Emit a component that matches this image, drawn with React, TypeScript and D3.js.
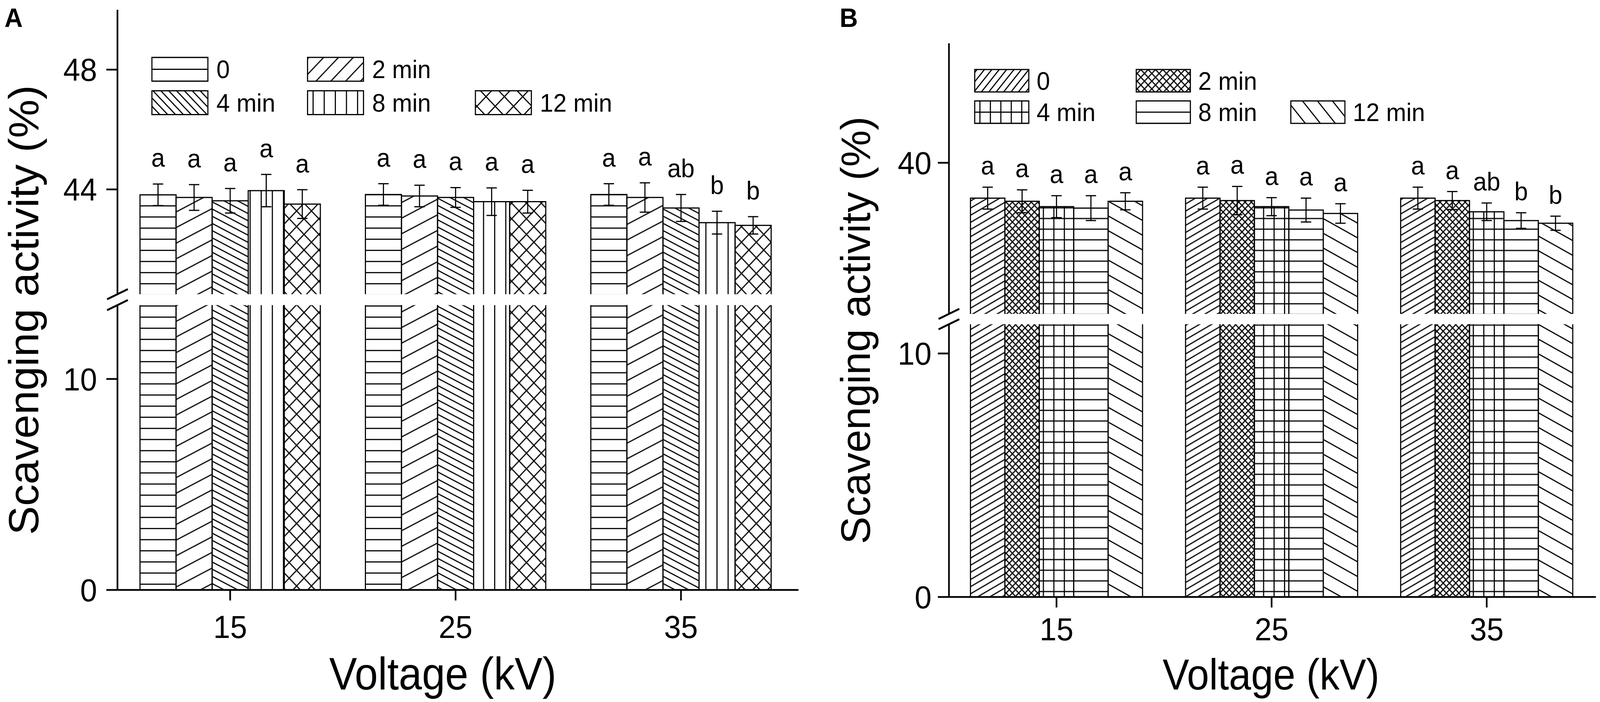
import React from 'react';
import * as d3 from 'd3';

// ---------- data ----------
const voltages = ['15', '25', '35'];
const seriesNames = ['0', '2 min', '4 min', '8 min', '12 min'];

// Panel A: means per voltage group (series order 0, 2, 4, 8, 12 min)
const aMeans15 = [43.82, 43.73, 43.62, 43.96, 43.51];
const aMeans25 = [43.83, 43.78, 43.73, 43.59, 43.59];
const aMeans35 = [43.83, 43.73, 43.38, 42.89, 42.8];
const aErr15 = [0.36, 0.43, 0.41, 0.54, 0.48];
const aErr25 = [0.36, 0.36, 0.33, 0.46, 0.38];
const aErr35 = [0.36, 0.49, 0.45, 0.38, 0.29];
const aLetters15 = ['a', 'a', 'a', 'a', 'a'];
const aLetters25 = ['a', 'a', 'a', 'a', 'a'];
const aLetters35 = ['a', 'a', 'ab', 'b', 'b'];

// Panel B
const bMeans15 = [38.55, 38.42, 38.2, 38.14, 38.42];
const bMeans25 = [38.55, 38.45, 38.2, 38.06, 37.92];
const bMeans35 = [38.55, 38.45, 37.99, 37.63, 37.52];
const bErr15 = [0.45, 0.47, 0.45, 0.51, 0.35];
const bErr25 = [0.45, 0.58, 0.37, 0.49, 0.4];
const bErr35 = [0.45, 0.37, 0.36, 0.32, 0.29];
const bLetters15 = ['a', 'a', 'a', 'a', 'a'];
const bLetters25 = ['a', 'a', 'a', 'a', 'a'];
const bLetters35 = ['a', 'a', 'ab', 'b', 'b'];

const aLowTicks = [0, 10];
const aUpTicks = [44, 48];
const bLowTicks = [0, 10];
const bUpTicks = [40];

// ---------- layout / style ----------
const W = 4318;
const H = 1798;
const FONT = "'Liberation Sans', Arial, Helvetica, sans-serif";
const SW = 3;

type Pat = { h?: boolean; v?: boolean; sx: number; sy: number; angle: number; ax?: number; ay?: number };

const panelA = {
  key: 'A',
  means: [aMeans15, aMeans25, aMeans35],
  errs: [aErr15, aErr25, aErr35],
  letters: [aLetters15, aLetters25, aLetters35],
  lowTicks: aLowTicks,
  upTicks: aUpTicks,
  axisX: 317,
  bandEnd: 2142,
  xEnd: 2155,
  lowDomain: [0, 13.5],
  lowRange: [1511, 781.5],
  upDomain: [40.5, 50],
  upRange: [753.5, 25],
  letterGap: 44,
  yLabelGap: 55,
  xLabelDy: 123,
  label: { x: 12, y: 69 },
  yTitle: { x: 103, y: 794, len: 1152, size: 114 },
  xTitle: { x: 1195, y: 1766, len: 613, size: 116 },
  barPats: [
    { h: true, sx: 20, sy: 28.5, angle: 0 },
    { h: true, sx: 20, sy: 35.8, angle: -26.57 },
    { h: true, sx: 20, sy: 16.5, angle: 26.57 },
    { v: true, sx: 30, sy: 20, angle: 0 },
    { h: true, v: true, sx: 28.3, sy: 28.3, angle: 45 },
  ] as Pat[],
  legend: {
    boxW: 151, boxH: 61, rows: [147, 232.5], cols: [410, 830, 1283], textDx: 174, size: 65,
    pats: [
      { h: true, sx: 20, sy: 30.5, angle: 0, ay: 1 },
      { h: true, sx: 20, sy: 28.3, angle: -45 },
      { h: true, sx: 20, sy: 15, angle: 45 },
      { v: true, sx: 30, sy: 20, angle: 0, ax: 1 },
      { h: true, v: true, sx: 35, sy: 35, angle: 45 },
    ] as Pat[],
  },
};

const panelB = {
  key: 'B',
  means: [bMeans15, bMeans25, bMeans35],
  errs: [bErr15, bErr25, bErr35],
  letters: [bLetters15, bLetters25, bLetters35],
  lowTicks: bLowTicks,
  upTicks: bUpTicks,
  axisX: 2561,
  bandEnd: 4302.5,
  xEnd: 4307,
  lowDomain: [0, 11.2],
  lowRange: [1529, 830.5],
  upDomain: [33.8, 44.9],
  upRange: [804, 111],
  letterGap: 32,
  yLabelGap: 47,
  xLabelDy: 111,
  label: { x: 2266, y: 69 },
  yTitle: { x: 2348, y: 846, len: 1095, size: 112 },
  xTitle: { x: 3430, y: 1766, len: 585, size: 112 },
  barPats: [
    { h: true, sx: 20, sy: 16, angle: -29 },
    { h: true, v: true, sx: 12, sy: 12, angle: 45 },
    { h: true, v: true, sx: 28.3, sy: 27.3, angle: 0 },
    { h: true, sx: 20, sy: 27.3, angle: 0 },
    { h: true, sx: 20, sy: 33.3, angle: 28 },
  ] as Pat[],
  legend: {
    boxW: 146, boxH: 57.5, rows: [178, 258.5], cols: [2630.5, 3066.5, 3483.6], textDx: 167, size: 65,
    pats: [
      { h: true, sx: 20, sy: 15.3, angle: -50 },
      { h: true, v: true, sx: 14, sy: 14, angle: 45 },
      { h: true, v: true, sx: 28.2, sy: 28.75, angle: 0, ax: 1, ay: 1 },
      { h: true, sx: 20, sy: 28.75, angle: 0, ay: 1 },
      { h: true, sx: 20, sy: 31, angle: 50 },
    ] as Pat[],
  },
};

const legendSlots = [
  [0, 0],
  [0, 1],
  [1, 0],
  [1, 1],
  [1, 2],
];

function PatternDef({ id, p, bx, by }: { id: string; p: Pat; bx?: number; by?: number }) {
  const x = p.ax && bx !== undefined ? bx - p.sx / 2 : 0;
  const y = p.ay && by !== undefined ? by - p.sy / 2 : 0;
  return (
    <pattern
      id={id}
      patternUnits="userSpaceOnUse"
      x={x}
      y={y}
      width={p.sx}
      height={p.sy}
      patternTransform={p.angle ? `rotate(${p.angle})` : undefined}
    >
      {p.h && <line x1={-1} x2={p.sx + 1} y1={p.sy / 2} y2={p.sy / 2} stroke="#000" strokeWidth={SW} />}
      {p.v && <line y1={-1} y2={p.sy + 1} x1={p.sx / 2} x2={p.sx / 2} stroke="#000" strokeWidth={SW} />}
    </pattern>
  );
}

function Panel({ cfg }: { cfg: typeof panelA }) {
  const x0 = d3.scaleBand<string>().domain(voltages).range([cfg.axisX, cfg.bandEnd]).paddingInner(0.2).paddingOuter(0.1);
  const x1 = d3.scaleBand<string>().domain(seriesNames).range([0, x0.bandwidth()]);
  const yLow = d3.scaleLinear().domain(cfg.lowDomain).range(cfg.lowRange);
  const yUp = d3.scaleLinear().domain(cfg.upDomain).range(cfg.upRange);
  const lowTop = yLow(cfg.lowDomain[1]);
  const lowBot = yLow(0);
  const upBot = yUp(cfg.upDomain[0]);
  const upTop = yUp(cfg.upDomain[1]);
  const ax = cfg.axisX;
  const lg = cfg.legend;

  return (
    <g>
      <defs>
        {cfg.barPats.map((p, i) => (
          <PatternDef key={i} id={`${cfg.key}-bar-${i}`} p={p} />
        ))}
        {lg.pats.map((p, i) => {
          const [r, c] = legendSlots[i];
          const bx = lg.cols[c];
          const by = lg.rows[r];
          return <PatternDef key={i} id={`${cfg.key}-leg-${i}`} p={p} bx={p.ax ? bx + (p.v && !p.h ? 15 : 14.1) : bx} by={by} />;
        })}
      </defs>

      {/* bars */}
      {voltages.map((v, gi) =>
        seriesNames.map((s, si) => {
          const val = cfg.means[gi][si];
          const e = cfg.errs[gi][si];
          const bx = (x0(v) as number) + (x1(s) as number);
          const bw = x1.bandwidth();
          const yt = yUp(val);
          const fill = `url(#${cfg.key}-bar-${si})`;
          const eTop = yUp(val + e);
          const eBot = yUp(val - e);
          const cx = bx + bw / 2;
          return (
            <g key={`${gi}-${si}`}>
              <rect x={bx} y={lowTop} width={bw} height={lowBot - lowTop} fill={fill} />
              <line x1={bx} x2={bx} y1={lowTop} y2={lowBot} stroke="#000" strokeWidth={SW} />
              <line x1={bx + bw} x2={bx + bw} y1={lowTop} y2={lowBot} stroke="#000" strokeWidth={SW} />
              <rect x={bx} y={yt} width={bw} height={upBot - yt} fill={fill} />
              <path d={`M${bx},${upBot}V${yt}H${bx + bw}V${upBot}`} fill="none" stroke="#000" strokeWidth={SW} />
              <line x1={cx} x2={cx} y1={eTop} y2={eBot} stroke="#000" strokeWidth={SW} />
              <line x1={cx - 14} x2={cx + 14} y1={eTop} y2={eTop} stroke="#000" strokeWidth={SW} />
              <line x1={cx - 14} x2={cx + 14} y1={eBot} y2={eBot} stroke="#000" strokeWidth={SW} />
              <text x={cx} y={eTop - cfg.letterGap} textAnchor="middle" fontFamily={FONT} fontSize={66} fill="#000">
                {cfg.letters[gi][si]}
              </text>
            </g>
          );
        })
      )}

      {/* axes */}
      <line x1={ax} x2={cfg.xEnd} y1={lowBot} y2={lowBot} stroke="#000" strokeWidth={4.5} />
      <line x1={ax} x2={ax} y1={lowTop} y2={lowBot} stroke="#000" strokeWidth={4.5} />
      <line x1={ax} x2={ax} y1={upTop} y2={upBot} stroke="#000" strokeWidth={4.5} />
      {[upBot, lowTop].map((yy, i) => (
        <line key={i} x1={ax - 28} x2={ax + 28} y1={yy + 13} y2={yy - 13} stroke="#000" strokeWidth={5} />
      ))}

      {cfg.lowTicks.map((t) => (
        <g key={`l${t}`}>
          <line x1={ax - 30} x2={ax} y1={yLow(t)} y2={yLow(t)} stroke="#000" strokeWidth={4.5} />
          <text x={ax - cfg.yLabelGap} y={yLow(t) + 29} textAnchor="end" fontFamily={FONT} fontSize={82}>
            {t}
          </text>
        </g>
      ))}
      {cfg.upTicks.map((t) => (
        <g key={`u${t}`}>
          <line x1={ax - 30} x2={ax} y1={yUp(t)} y2={yUp(t)} stroke="#000" strokeWidth={4.5} />
          <text x={ax - cfg.yLabelGap} y={yUp(t) + 29} textAnchor="end" fontFamily={FONT} fontSize={82}>
            {t}
          </text>
        </g>
      ))}
      {voltages.map((v) => {
        const cx = (x0(v) as number) + x0.bandwidth() / 2;
        return (
          <g key={v}>
            <line x1={cx} x2={cx} y1={lowBot} y2={lowBot + 27} stroke="#000" strokeWidth={4.5} />
            <text x={cx} y={lowBot + cfg.xLabelDy} textAnchor="middle" fontFamily={FONT} fontSize={82}>
              {v}
            </text>
          </g>
        );
      })}

      {/* titles */}
      <text
        x={cfg.xTitle.x}
        y={cfg.xTitle.y}
        textAnchor="middle"
        fontFamily={FONT}
        fontSize={cfg.xTitle.size}
        textLength={cfg.xTitle.len}
        lengthAdjust="spacingAndGlyphs"
      >
        Voltage (kV)
      </text>
      <text
        transform={`translate(${cfg.yTitle.x},${cfg.yTitle.y}) rotate(-90)`}
        textAnchor="middle"
        fontFamily={FONT}
        fontSize={cfg.yTitle.size}
        textLength={cfg.yTitle.len}
        lengthAdjust="spacingAndGlyphs"
      >
        Scavenging activity (%)
      </text>
      <text x={cfg.label.x} y={cfg.label.y} fontFamily={FONT} fontWeight="bold" fontSize={68}>
        {cfg.key}
      </text>

      {/* legend */}
      {seriesNames.map((s, i) => {
        const [r, c] = legendSlots[i];
        const bx = lg.cols[c];
        const by = lg.rows[r];
        return (
          <g key={s}>
            <rect x={bx} y={by} width={lg.boxW} height={lg.boxH} fill={`url(#${cfg.key}-leg-${i})`} stroke="#000" strokeWidth={SW} />
            <text x={bx + lg.textDx} y={by + lg.boxH / 2 + 23} fontFamily={FONT} fontSize={lg.size}>
              {s}
            </text>
          </g>
        );
      })}
    </g>
  );
}

export default function App() {
  return (
    <svg
      viewBox={`0 0 ${W} ${H}`}
      preserveAspectRatio="none"
      style={{ position: 'fixed', left: 0, top: 0, width: '100vw', height: '100vh', display: 'block', background: '#fff' }}
    >
      <rect width={W} height={H} fill="#fff" />
      <Panel cfg={panelA} />
      <Panel cfg={panelB} />
    </svg>
  );
}
